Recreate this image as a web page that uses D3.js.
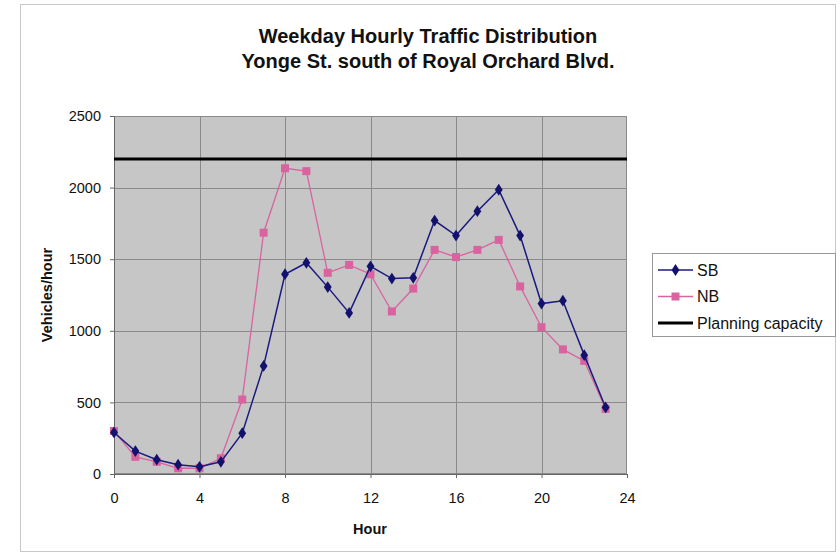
<!DOCTYPE html>
<html lang="en">
<head>
<meta charset="UTF-8">
<title>Weekday Hourly Traffic Distribution</title>
<script src="https://d3js.org/d3.v7.min.js"></script>
<style>
  body { margin: 0; background: #fff; }
  text { font-family: "Liberation Sans", Arial, sans-serif; fill: #111; }
  .tick text { font-size: 14.5px; }
</style>
</head>
<body>
<div id="chart"></div>
<script>
// Data
const hours = d3.range(0, 24);
const sbValues = [290, 160, 100, 65, 50, 85, 285, 755, 1395, 1475, 1305, 1125, 1450, 1365, 1370, 1770, 1665, 1835, 1985, 1665, 1190, 1210, 830, 465];
const nbValues = [300, 120, 85, 40, 40, 110, 520, 1685, 2135, 2115, 1405, 1460, 1395, 1135, 1295, 1565, 1515, 1565, 1635, 1310, 1025, 870, 790, 455];
const capacity = 2200;
const xTicks = [0, 4, 8, 12, 16, 20, 24];
const yTicks = [0, 500, 1000, 1500, 2000, 2500];
const seriesNames = ["SB", "NB", "Planning capacity"];

const W = 840, H = 557;
const plot = {left: 114, right: 627, top: 116, bottom: 474};

const svg = d3.select("#chart").append("svg")
    .attr("width", W).attr("height", H);

// chart area border
svg.append("rect")
    .attr("x", 20.5).attr("y", 4.5)
    .attr("width", 815).attr("height", 547)
    .attr("fill", "#fff").attr("stroke", "#c8c8c8");

const x = d3.scaleLinear().domain([0, 24]).range([plot.left, plot.right]);
const y = d3.scaleLinear().domain([0, 2500]).range([plot.bottom, plot.top]);

// plot background
svg.append("rect")
    .attr("x", plot.left).attr("y", plot.top)
    .attr("width", plot.right - plot.left).attr("height", plot.bottom - plot.top)
    .attr("fill", "#c6c6c6");

// grid
svg.append("g").selectAll("line").data(yTicks.slice(1, -1)).join("line")
    .attr("x1", plot.left).attr("x2", plot.right)
    .attr("y1", d => Math.round(y(d)) + 0.5).attr("y2", d => Math.round(y(d)) + 0.5)
    .attr("stroke", "#8a8a8a");
svg.append("g").selectAll("line").data(xTicks.slice(1, -1)).join("line")
    .attr("y1", plot.top).attr("y2", plot.bottom)
    .attr("x1", d => Math.round(x(d)) + 0.5).attr("x2", d => Math.round(x(d)) + 0.5)
    .attr("stroke", "#8a8a8a");

// plot border
svg.append("rect")
    .attr("x", plot.left + 0.5).attr("y", plot.top + 0.5)
    .attr("width", plot.right - plot.left - 1).attr("height", plot.bottom - plot.top - 1)
    .attr("fill", "none").attr("stroke", "#8a8a8a");

// axes
const xAxis = svg.append("g")
    .attr("transform", `translate(0,${plot.bottom})`)
    .call(d3.axisBottom(x).tickValues(xTicks).tickSize(4).tickPadding(15));
const yAxis = svg.append("g")
    .attr("transform", `translate(${plot.left},0)`)
    .call(d3.axisLeft(y).tickValues(yTicks).tickFormat(d3.format("d")).tickSize(4).tickPadding(9));
[xAxis, yAxis].forEach(a => {
    a.select(".domain").attr("stroke", "#666");
    a.selectAll(".tick line").attr("stroke", "#666");
    a.selectAll(".tick text").attr("fill", "#222");
});

// planning capacity line
svg.append("line")
    .attr("x1", plot.left).attr("x2", plot.right)
    .attr("y1", y(capacity)).attr("y2", y(capacity))
    .attr("stroke", "#000").attr("stroke-width", 3);

const sbColor = "#1a1a80", nbColor = "#d8639e";
const line = d3.line().x((d, i) => x(hours[i])).y(d => y(d));

// NB series
svg.append("path").datum(nbValues)
    .attr("d", line).attr("fill", "none")
    .attr("stroke", nbColor).attr("stroke-width", 1.3);
svg.append("g").selectAll("rect").data(nbValues).join("rect")
    .attr("x", (d, i) => x(hours[i]) - 4).attr("y", d => y(d) - 4)
    .attr("width", 8).attr("height", 8)
    .attr("fill", nbColor);

// SB series
svg.append("path").datum(sbValues)
    .attr("d", line).attr("fill", "none")
    .attr("stroke", sbColor).attr("stroke-width", 1.5);
const diamond = d3.symbol().type(d3.symbolDiamond).size(40);
svg.append("g").selectAll("path").data(sbValues).join("path")
    .attr("d", diamond)
    .attr("transform", (d, i) => `translate(${x(hours[i])},${y(d)}) scale(1.15,1)`)
    .attr("fill", "#12126e");

// titles
svg.append("text")
    .attr("x", 428).attr("y", 43)
    .attr("text-anchor", "middle")
    .attr("font-size", 20).attr("font-weight", "bold")
    .text("Weekday Hourly Traffic Distribution");
svg.append("text")
    .attr("x", 428).attr("y", 68)
    .attr("text-anchor", "middle")
    .attr("font-size", 20).attr("font-weight", "bold")
    .text("Yonge St. south of Royal Orchard Blvd.");
svg.append("text")
    .attr("x", 370).attr("y", 534)
    .attr("text-anchor", "middle")
    .attr("font-size", 14.5).attr("font-weight", "bold")
    .text("Hour");
svg.append("text")
    .attr("transform", "translate(52,295) rotate(-90)")
    .attr("text-anchor", "middle")
    .attr("font-size", 14.5).attr("font-weight", "bold")
    .text("Vehicles/hour");

// legend
const legend = svg.append("g").attr("transform", "translate(652,253)");
legend.append("rect")
    .attr("x", 0.5).attr("y", 0.5).attr("width", 183).attr("height", 83)
    .attr("fill", "#fff").attr("stroke", "#999");
seriesNames.forEach((name, i) => {
    const row = legend.append("g").attr("transform", `translate(0,${17 + i * 26.5})`);
    if (i === 2) {
        row.append("line").attr("x1", 6).attr("x2", 41)
            .attr("stroke", "#000").attr("stroke-width", 3);
    } else {
        const c = i === 0 ? sbColor : nbColor;
        row.append("line").attr("x1", 6).attr("x2", 41)
            .attr("stroke", c).attr("stroke-width", 1.3);
        if (i === 0) {
            row.append("path").attr("d", diamond)
                .attr("transform", "translate(23.5,0) scale(1.15,1)").attr("fill", "#12126e");
        } else {
            row.append("rect").attr("x", 19.5).attr("y", -4)
                .attr("width", 8).attr("height", 8).attr("fill", nbColor);
        }
    }
    row.append("text").attr("x", 45).attr("y", 5.5)
        .attr("font-size", 16).text(name);
});
</script>
</body>
</html>
